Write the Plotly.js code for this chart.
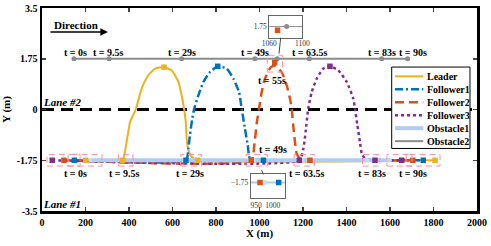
<!DOCTYPE html>
<html><head><meta charset="utf-8">
<script src="https://cdn.plot.ly/plotly-3.0.1.min.js"></script>
<style>html,body{margin:0;padding:0;background:#fff;}#chart{width:491px;height:246px;}</style>
</head><body><div id="chart"></div>
<script>
// ---------- data ----------
const leaderX = [201, 369, 389, 405, 431, 458, 489, 520, 561, 596, 627, 642, 653, 661, 665, 673, 688, 711, 1807];
const leaderY = [-1.75, -1.75, -1.12, -0.43, 0, 0.72, 1.18, 1.41, 1.46, 1.35, 0.95, 0.49, 0.03, -0.43, -1.0, -1.40, -1.63, -1.75, -1.75];
const f1X = [149, 662, 673, 680, 691, 700, 719, 742, 772, 808, 849, 880, 906, 918, 933, 946, 956, 1018, 1753];
const f1Y = [-1.75, -1.75, -1.34, -0.89, -0.31, 0.03, 0.49, 0.95, 1.29, 1.49, 1.41, 1.06, 0.60, 0.03, -0.66, -1.23, -1.69, -1.75, -1.75];
const f2X = [101, 962, 976, 988, 998, 1010, 1025, 1050, 1068, 1102, 1125, 1140, 1148, 1155, 1163, 1171, 1186, 1232, 1705];
const f2Y = [-1.75, -1.75, -1.23, -0.43, 0.03, 0.60, 1.06, 1.44, 1.52, 1.29, 0.83, 0.38, 0.03, -0.54, -1.12, -1.52, -1.69, -1.75, -1.75];
const f3X = [47, 1183, 1202, 1212, 1224, 1240, 1263, 1293, 1324, 1362, 1401, 1431, 1439, 1450, 1462, 1470, 1485, 1531, 1654];
const f3Y = [-1.75, -1.75, -1.34, -0.77, 0.03, 0.60, 1.06, 1.41, 1.49, 1.35, 0.95, 0.38, 0.03, -0.54, -1.12, -1.52, -1.69, -1.75, -1.75];
const obs1X = [222, 1600];
const obs1Y = [-1.75, -1.75];
const obs2X = [147, 1681];
const obs2Y = [1.75, 1.75];

// snapshot markers
const leaderMkX = [201, 371, 561, 716, 1807];
const leaderMkY = [-1.75, -1.75, 1.46, -1.75, -1.75];
const f1MkX = [149, 662, 808, 1018, 1753];
const f1MkY = [-1.75, -1.75, 1.49, -1.75, -1.75];
const f2MkX = [101, 962, 1070, 1232, 1705];
const f2MkY = [-1.75, -1.75, 1.62, -1.75, -1.75];
const f3MkX = [47, 1183, 1324, 1531, 1654];
const f3MkY = [-1.75, -1.75, 1.49, -1.75, -1.75];
const obs1MkX = [222, 368, 668, 976, 1198, 1496, 1600];
const obs1MkY = [-1.75, -1.75, -1.75, -1.75, -1.75, -1.75, -1.75];
const obs2MkX = [147, 308, 642, 979, 1081, 1229, 1562, 1681];
const obs2MkY = [1.75, 1.75, 1.75, 1.75, 1.75, 1.75, 1.75, 1.75];

// legend entries
const seriesNames = ['Leader', 'Follower1', 'Follower2', 'Follower3', 'Obstacle1', 'Obstacle2'];

// time labels
const topLabels = ["t = 0s", "t = 9.5s", "t = 29s", "t = 49s", "t = 63.5s", "t = 83s", "t = 90s"];
const topLabelX = [152, 308, 642, 979, 1232, 1562, 1704];
const botLabels = ["t = 0s", "t = 9.5s", "t = 29s", "t = 49s", "t = 55s", "t = 63.5s", "t = 83s", "t = 90s"];
const botLabelX = [152, 378, 680, 1064, 1056, 1217, 1516, 1704];
const botLabelY = [-2.2, -2.2, -2.2, -1.38, 1.0, -2.2, -2.2, -2.2];

// highlight boxes [x0, x1, y0, y1]
const boxX0 = [23, 120, 352, 638, 938, 1159, 1474, 1586, 1674, 1036];
const boxX1 = [175, 276, 418, 734, 1036, 1252, 1554, 1701, 1830, 1106];
const boxY0 = [-1.95, -1.95, -1.95, -1.95, -1.95, -1.95, -1.95, -1.95, -1.95, 1.29];
const boxY1 = [-1.55, -1.55, -1.55, -1.55, -1.55, -1.55, -1.55, -1.55, -1.55, 1.87];

const xTicks = [0, 200, 400, 600, 800, 1000, 1200, 1400, 1600, 1800, 2000];
const yTicks = [-3.5, -1.75, 0, 1.75, 3.5];

// ---------- styles ----------
const cLeader = '#EDB120', cF1 = '#0072BD', cF2 = '#D95319', cF3 = '#7E2F8E', cO1 = '#AFCDF2', cO2 = '#8C8C8C';
const FF = 'Liberation Serif';
const lineStyles = [
  {color: cLeader, width: 2},
  {color: cF1, width: 2.5, dash: '8px,3px,2px,3px'},
  {color: cF2, width: 2.5, dash: '9px,5px'},
  {color: cF3, width: 2.5, dash: 'dot'},
  {color: cO1, width: 4},
  {color: cO2, width: 2}
];
const sp = {shape: 'spline', smoothing: 0.5};

const traces = [
  {x: leaderX, y: leaderY, name: seriesNames[0], mode: 'lines', line: Object.assign({}, lineStyles[0], sp)},
  {x: f1X, y: f1Y, name: seriesNames[1], mode: 'lines', line: Object.assign({}, lineStyles[1], sp)},
  {x: f2X, y: f2Y, name: seriesNames[2], mode: 'lines', line: Object.assign({}, lineStyles[2], sp)},
  {x: f3X, y: f3Y, name: seriesNames[3], mode: 'lines', line: Object.assign({}, lineStyles[3], sp)},
  {x: obs1X, y: obs1Y, name: seriesNames[4], mode: 'lines', line: lineStyles[4]},
  {x: obs2X, y: obs2Y, name: seriesNames[5], mode: 'lines', line: lineStyles[5]},
  {x: obs1MkX, y: obs1MkY, mode: 'markers', marker: {color: '#C5DCF7', size: 4, symbol: 'circle'}},
  {x: obs2MkX, y: obs2MkY, mode: 'markers', marker: {color: cO2, size: 5, symbol: 'circle'}},
  {x: leaderMkX, y: leaderMkY, mode: 'markers', marker: {color: cLeader, size: 5.5, symbol: 'square'}},
  {x: f1MkX, y: f1MkY, mode: 'markers', marker: {color: cF1, size: 5.5, symbol: 'square'}},
  {x: f2MkX, y: f2MkY, mode: 'markers', marker: {color: cF2, size: 5.5, symbol: 'square'}},
  {x: f3MkX, y: f3MkY, mode: 'markers', marker: {color: cF3, size: 5.5, symbol: 'square'}},
  // inset 1 (t = 55s, top)
  {x: obs2X, y: obs2Y, xaxis: 'x2', yaxis: 'y2', mode: 'lines', line: {color: cO2, width: 1}},
  {x: obs2MkX, y: obs2MkY, xaxis: 'x2', yaxis: 'y2', mode: 'markers', marker: {color: cO2, size: 5}},
  {x: f2MkX, y: f2MkY, xaxis: 'x2', yaxis: 'y2', mode: 'markers', marker: {color: cF2, size: 5.5, symbol: 'square'}},
  // inset 2 (t = 49s, bottom)
  {x: obs1X, y: obs1Y, xaxis: 'x3', yaxis: 'y3', mode: 'lines', line: {color: cO1, width: 2}},
  {x: obs1MkX, y: obs1MkY, xaxis: 'x3', yaxis: 'y3', mode: 'markers', marker: {color: '#C5DCF7', size: 5}},
  {x: f2MkX, y: f2MkY, xaxis: 'x3', yaxis: 'y3', mode: 'markers', marker: {color: cF2, size: 5.5, symbol: 'square'}},
  {x: f1MkX, y: f1MkY, xaxis: 'x3', yaxis: 'y3', mode: 'markers', marker: {color: cF1, size: 5.5, symbol: 'square'}}
];
traces.forEach(t => { t.showlegend = false; });

const shapes = [
  {type: 'line', xref: 'x', yref: 'y', x0: 0, x1: 2000, y0: 0, y1: 0, layer: 'below', line: {color: '#000', width: 3, dash: '12px,7px'}},
  {type: 'line', xref: 'paper', yref: 'paper', x0: 0.5487, y0: 0.8536, x1: 0.5448, y1: 0.775, line: {color: '#444', width: 1}},
  {type: 'line', xref: 'paper', yref: 'paper', x0: 0.505, y0: 0.2015, x1: 0.5087, y1: 0.1803, line: {color: '#444', width: 1}}
];
for (let i = 0; i < boxX0.length; i++) {
  shapes.push({type: 'rect', xref: 'x', yref: 'y', x0: boxX0[i], x1: boxX1[i], y0: boxY0[i], y1: boxY1[i],
    line: {color: '#FF8FA3', width: 1, dash: '6px,4px'}, fillcolor: 'rgba(0,0,0,0)'});
}

const annFont = {family: FF, size: 10, color: '#000'};
const annotations = [];
topLabels.forEach((t, i) => annotations.push({x: topLabelX[i], y: 1.96, xref: 'x', yref: 'y', text: '<b>' + t + '</b>', showarrow: false, font: annFont}));
botLabels.forEach((t, i) => annotations.push({x: botLabelX[i], y: botLabelY[i], xref: 'x', yref: 'y', text: '<b>' + t + '</b>', showarrow: false, font: annFont}));
annotations.push({x: 156, y: 2.9, xref: 'x', yref: 'y', text: '<b>Direction</b>', showarrow: false, font: {family: FF, size: 11, color: '#000'}});
annotations.push({x: 303, y: 2.67, ax: 32, ay: 2.67, axref: 'x', ayref: 'y', xref: 'x', yref: 'y', text: '', showarrow: true, arrowhead: 2, arrowsize: 1, arrowwidth: 1.5, arrowcolor: '#000'});
annotations.push({x: 90, y: 0.26, xref: 'x', yref: 'y', text: '<b><i>Lane #2</i></b>', showarrow: false, font: {family: FF, size: 11, color: '#000'}});
annotations.push({x: 90, y: -3.27, xref: 'x', yref: 'y', text: '<b><i>Lane #1</i></b>', showarrow: false, font: {family: FF, size: 11, color: '#000'}});

// custom legend (paper coordinates)
const legX0 = 0.8039, legX1 = 0.9839, legY0 = 0.3081, legY1 = 0.7091;
const legRowY = [0.6634, 0.5995, 0.5356, 0.4717, 0.4079, 0.3440];
shapes.push({type: 'rect', xref: 'paper', yref: 'paper', x0: legX0, x1: legX1, y0: legY0, y1: legY1, line: {color: '#000', width: 1}, fillcolor: '#fff', layer: 'above'});
seriesNames.forEach((n, i) => {
  shapes.push({type: 'line', xref: 'paper', yref: 'paper', x0: 0.8115, x1: 0.8766, y0: legRowY[i], y1: legRowY[i], line: lineStyles[i], layer: 'above'});
  annotations.push({x: 0.880, y: legRowY[i], xref: 'paper', yref: 'paper', xanchor: 'left', yanchor: 'middle', text: '<b>' + n + '</b>', showarrow: false, font: {family: FF, size: 10, color: '#000'}});
});

const tickFont = {family: FF, size: 10, color: '#000', weight: 'bold'};
const insetFont = {family: FF, size: 7.5, color: '#333'};

const layout = {
  width: 491, height: 246,
  margin: {l: 42, r: 14, t: 8, b: 35},
  paper_bgcolor: '#fff', plot_bgcolor: '#fff',
  showlegend: false,
  xaxis: {domain: [0, 1], range: [0, 2000], tickvals: xTicks, ticktext: xTicks.map(String), ticks: 'inside', ticklen: 4, tickwidth: 1.5,
    showline: true, linewidth: 2.5, linecolor: '#000', mirror: 'ticks', showgrid: false, zeroline: false, tickfont: tickFont,
    title: {text: '<b>X (m)</b>', font: {family: FF, size: 11, color: '#000'}, standoff: 2}},
  yaxis: {domain: [0, 1], range: [-3.5, 3.5], tickvals: yTicks, ticktext: ['-3.5', '-1.75', '0', '1.75', '3.5'], ticks: 'inside', ticklen: 4, tickwidth: 1.5,
    showline: true, linewidth: 2.5, linecolor: '#000', mirror: 'ticks', showgrid: false, zeroline: false, tickfont: tickFont,
    title: {text: '<b>Y (m)</b>', font: {family: FF, size: 11, color: '#000'}, standoff: 4}},
  xaxis2: {domain: [0.5225, 0.5984], anchor: 'y2', range: [1060, 1100], tickvals: [1060, 1100], showline: true, mirror: true, linecolor: '#666', linewidth: 1,
    ticks: '', showgrid: false, zeroline: false, tickfont: insetFont, ticklabelstandoff: -2},
  yaxis2: {domain: [0.8536, 0.963], anchor: 'x2', range: [1.35, 2.15], tickvals: [1.75], showline: true, mirror: true, linecolor: '#666', linewidth: 1,
    ticks: '', showgrid: false, zeroline: false, tickfont: insetFont},
  xaxis3: {domain: [0.4798, 0.5586], anchor: 'y3', range: [934, 1037], tickvals: [950, 1000], showline: true, mirror: true, linecolor: '#666', linewidth: 1,
    ticks: '', showgrid: false, zeroline: false, tickfont: insetFont},
  yaxis3: {domain: [0.0624, 0.1803], anchor: 'x3', range: [-2.05, -1.6], tickvals: [-1.75], showline: true, mirror: true, linecolor: '#666', linewidth: 1,
    ticks: '', showgrid: false, zeroline: false, tickfont: insetFont},
  shapes: shapes,
  annotations: annotations
};

Plotly.newPlot('chart', traces, layout, {displayModeBar: false, staticPlot: true});
</script></body></html>
